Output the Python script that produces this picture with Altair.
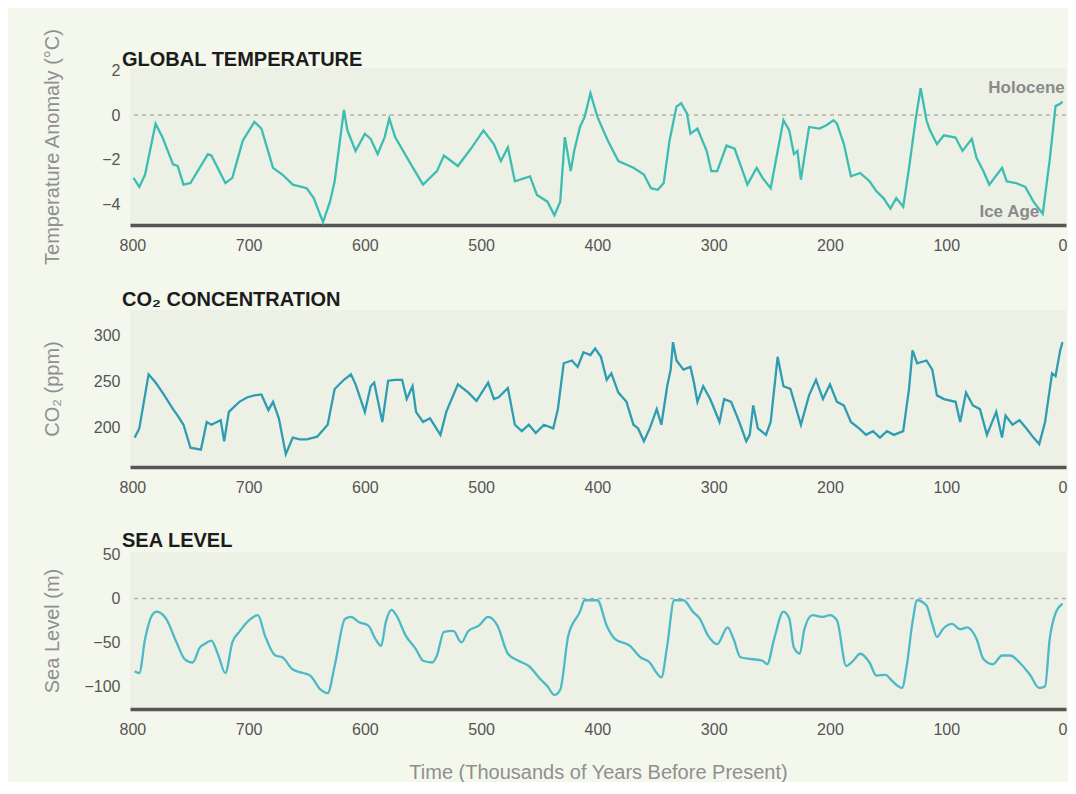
import altair as alt
import pandas as pd

# ---------------- data ----------------
TEMP_T = [799, 794, 789, 780, 774, 765, 761, 756, 750, 735, 732, 720, 714, 705, 695, 689, 679, 671,
          662, 650, 644, 636, 630, 626, 618, 615, 608, 600, 595, 589, 583, 579, 574, 562, 550, 538,
          532, 520, 508, 498, 489, 483, 477, 471, 458, 452, 443, 437, 432, 428, 423, 420, 415, 411,
          406, 400, 391, 382, 369, 360, 354, 348, 343, 338, 332, 328, 323, 320, 314, 306, 302, 297,
          289, 282, 274, 271, 263, 258, 251, 245, 240, 235, 231, 228, 225, 218, 209, 203, 197, 194,
          188, 182, 174, 166, 160, 154, 148, 143, 137, 132, 126, 122, 117, 114, 108, 102, 92, 86,
          78, 74, 68, 63, 52, 48, 40, 32, 25, 17, 11, 6, 2, 0]
TEMP_V = [-2.8, -3.2, -2.65, -0.38, -1.0, -2.2, -2.27, -3.1, -3.03, -1.74, -1.8, -3.03, -2.8, -1.14,
          -0.3, -0.6, -2.35, -2.65, -3.1, -3.26, -3.7, -4.77, -3.86, -2.95, 0.23, -0.68, -1.6, -0.83,
          -1.06, -1.74, -0.98, -0.15, -0.98, -2.05, -3.1, -2.5, -1.8, -2.27, -1.44, -0.68, -1.3,
          -2.05, -1.44, -2.95, -2.73, -3.56, -3.86, -4.47, -3.86, -0.98, -2.5, -1.6, -0.53, -0.08,
          0.98, -0.08, -1.14, -2.05, -2.35, -2.65, -3.26, -3.33, -3.03, -1.14, 0.38, 0.53, 0.08,
          -0.83, -0.6, -1.6, -2.5, -2.5, -1.36, -1.5, -2.65, -3.1, -2.35, -2.8, -3.26, -1.6, -0.23,
          -0.68, -1.74, -1.6, -2.88, -0.53, -0.6, -0.45, -0.23, -0.38, -1.29, -2.73, -2.58, -2.95,
          -3.4, -3.7, -4.17, -3.7, -4.09, -2.35, -0.08, 1.2, -0.23, -0.68, -1.29, -0.9, -1.0, -1.6,
          -1.06, -1.9, -2.5, -3.1, -2.35, -2.95, -3.03, -3.2, -3.86, -4.4, -2.0, 0.4, 0.5, 0.6]

CO2_T = [798, 794, 786, 780, 774, 765, 761, 756, 750, 741, 736, 732, 724, 721, 717, 708, 701, 695,
         689, 683, 679, 674, 668, 662, 656, 650, 641, 632, 626, 618, 612, 608, 600, 595, 592, 585,
         580, 574, 568, 564, 559, 556, 550, 544, 535, 530, 520, 511, 504, 494, 489, 485, 477, 471,
         465, 459, 453, 446, 438, 434, 429, 422, 417, 412, 406, 402, 397, 392, 388, 382, 375, 369,
         365, 360, 355, 349, 345, 340, 337, 335, 332, 326, 320, 317, 314, 309, 303, 295, 291, 285,
         278, 272, 269, 266, 262, 255, 251, 245, 240, 234, 225, 218, 212, 206, 200, 194, 188, 182,
         175, 169, 163, 157, 151, 145, 137, 132, 129, 125, 117, 112, 108, 102, 92, 88, 83, 77, 71,
         65, 57, 52, 49, 43, 37, 31, 25, 20, 15, 9, 6, 2, 0]
CO2_V = [189, 199, 258, 249, 238, 220, 213, 203, 178, 176, 206, 203, 208, 185, 217, 228, 233, 235,
         236, 219, 228, 210, 171, 189, 187, 187, 190, 203, 242, 252, 258, 247, 217, 245, 249, 206,
         251, 252, 252, 231, 245, 217, 206, 210, 192, 217, 247, 238, 229, 249, 231, 233, 243, 203,
         196, 203, 194, 203, 199, 220, 270, 273, 266, 282, 279, 286, 277, 252, 259, 238, 228, 203,
         199, 185, 199, 220, 203, 245, 263, 293, 273, 263, 266, 249, 228, 245, 231, 206, 231, 228,
         206, 185, 192, 224, 199, 192, 206, 277, 245, 242, 203, 235, 252, 231, 247, 228, 224, 206,
         199, 192, 196, 189, 196, 192, 196, 242, 284, 270, 273, 263, 235, 231, 228, 206, 238, 224,
         220, 192, 217, 189, 213, 203, 208, 199, 189, 182, 206, 259, 256, 284, 293]

SEA_T = [798, 794, 789, 783, 779, 771, 762, 755, 748, 742, 738, 732, 726, 720, 714, 708, 698, 692,
         686, 677, 671, 662, 653, 647, 638, 632, 626, 617, 612, 605, 597, 591, 586, 582, 577, 573,
         565, 556, 550, 542, 538, 532, 524, 517, 511, 502, 494, 486, 477, 468, 459, 449, 443, 437,
         432, 425, 415, 411, 400, 392, 385, 372, 363, 355, 349, 345, 340, 334, 326, 318, 312, 305,
         297, 288, 283, 277, 268, 258, 254, 248, 240, 235, 231, 226, 222, 215, 206, 200, 194, 186,
         180, 174, 166, 160, 152, 148, 138, 134, 129, 125, 117, 112, 108, 103, 95, 88, 82, 74, 68,
         60, 52, 45, 37, 28, 20, 15, 11, 6, 0]
SEA_V = [-83, -85, -46, -19, -15, -23, -50, -69, -73, -56, -52, -48, -65, -85, -50, -38, -23, -19,
         -42, -65, -67, -81, -85, -88, -104, -108, -77, -23, -21, -27, -31, -46, -54, -27, -13, -19,
         -42, -58, -71, -73, -65, -38, -37, -50, -37, -31, -21, -31, -63, -71, -77, -92, -100, -110,
         -104, -42, -15, -2, -2, -31, -46, -54, -67, -73, -85, -90, -54, -2, -2, -15, -23, -42,
         -52, -33, -46, -67, -69, -71, -75, -46, -15, -23, -56, -63, -35, -19, -21, -19, -25, -77,
         -71, -63, -73, -88, -87, -92, -102, -77, -27, -2, -8, -29, -44, -35, -29, -35, -33, -46,
         -69, -75, -65, -65, -73, -87, -102, -100, -46, -17, -6]

X_TICKS = [800, 700, 600, 500, 400, 300, 200, 100, 0]
TEMP_TICKS = [2, 0, -2, -4]
CO2_TICKS = [300, 250, 200]
SEA_TICKS = [50, 0, -50, -100]

ANN_LABEL = ["Holocene", "Ice Age"]
ANN_T = [-2, 20]
ANN_V = [1.2, -4.3]

# ---------------- styling ----------------
FONT = "Liberation Sans"
W, H = 936, 157
X_DOMAIN = [-3, 802]
PAGE_BG = "#f4f7ec"
VIEW_BG = "#edf1e5"
LABEL_C = "#555555"
TITLE_C = "#8f8f8f"


def x_enc(title=None):
    kw = dict(values=X_TICKS, domain=True, domainColor="#555555", domainWidth=3.5,
              ticks=False, grid=False, labelColor=LABEL_C, labelFontSize=16, labelFont=FONT,
              labelPadding=12, labelFlush=False)
    if title:
        kw.update(title=title, titleColor=TITLE_C, titleFontSize=20, titleFont=FONT,
                  titleFontWeight="normal", titlePadding=25)
    else:
        kw.update(title=None)
    return alt.X("t:Q", scale=alt.Scale(domain=X_DOMAIN, reverse=True, nice=False, zero=False),
                 axis=alt.Axis(**kw))


def y_enc(field, domain, ticks, title):
    return alt.Y(f"{field}:Q", scale=alt.Scale(domain=domain, nice=False, zero=False),
                 axis=alt.Axis(values=ticks, domain=False, ticks=False, grid=False,
                               labelColor=LABEL_C, labelFontSize=16, labelFont=FONT,
                               labelPadding=10, title=title, titleColor=TITLE_C,
                               titleFontSize=20, titleFont=FONT, titleFontWeight="normal",
                               titleAngle=270, titleAlign="center", titleBaseline="middle",
                               titleX=-78, titleY=H / 2))


def panel_title(text, dy):
    return alt.TitleParams(text=text, anchor="start", frame="group", fontSize=20,
                           fontWeight="bold", font=FONT, color="#1c1c1c", dx=-8, offset=0, dy=dy)


zero_df = pd.DataFrame({"v": [0]})

# temperature
temp_df = pd.DataFrame({"t": TEMP_T, "v": TEMP_V})
ann_df = pd.DataFrame({"t": ANN_T, "v": ANN_V, "label": ANN_LABEL})
T_DOM = [-4.9, 2.1]
T_TITLE = "Temperature Anomaly (°C)"
temp_line = alt.Chart(temp_df).mark_line(color="#3cbdb3", strokeWidth=2.3).encode(
    x=x_enc(), y=y_enc("v", T_DOM, TEMP_TICKS, T_TITLE))
temp_zero = alt.Chart(zero_df).mark_rule(color="#aeb2aa", strokeDash=[4, 4], strokeWidth=1.5).encode(
    y=y_enc("v", T_DOM, TEMP_TICKS, T_TITLE))
temp_ann = alt.Chart(ann_df).mark_text(align="right", baseline="middle", fontSize=17,
                                       fontWeight="bold", font=FONT, color="#8a8a8a").encode(
    x=x_enc(), y=y_enc("v", T_DOM, TEMP_TICKS, T_TITLE), text="label:N")
p1 = alt.layer(temp_zero, temp_line, temp_ann).properties(
    width=W, height=H, title=panel_title("GLOBAL TEMPERATURE", 42))

# CO2
co2_df = pd.DataFrame({"t": CO2_T, "v": CO2_V})
C_DOM = [157, 328]
co2_line = alt.Chart(co2_df).mark_line(color="#2e9cb3", strokeWidth=2.3).encode(
    x=x_enc(), y=y_enc("v", C_DOM, CO2_TICKS, "CO₂ (ppm)"))
p2 = co2_line.properties(width=W, height=H, title=panel_title("CO₂ CONCENTRATION", 0))

# sea level
sea_df = pd.DataFrame({"t": SEA_T, "v": SEA_V})
S_DOM = [-126, 53]
sea_line = alt.Chart(sea_df).mark_line(color="#4bb9c7", strokeWidth=2.3, interpolate="monotone").encode(
    x=x_enc("Time (Thousands of Years Before Present)"), y=y_enc("v", S_DOM, SEA_TICKS, "Sea Level (m)"))
sea_zero = alt.Chart(zero_df).mark_rule(color="#aeb2aa", strokeDash=[4, 4], strokeWidth=1.5).encode(
    y=y_enc("v", S_DOM, SEA_TICKS, "Sea Level (m)"))
p3 = alt.layer(sea_zero, sea_line).properties(width=W, height=H, title=panel_title("SEA LEVEL", 4))

chart = alt.vconcat(p1, p2, p3, spacing=85, bounds="flush").properties(
    background=PAGE_BG,
    padding={"left": 33, "top": 20, "right": 0, "bottom": 0},
).configure_view(fill=VIEW_BG, stroke=None)

chart.save("out.html", embed_options={"renderer": "svg", "actions": False})
